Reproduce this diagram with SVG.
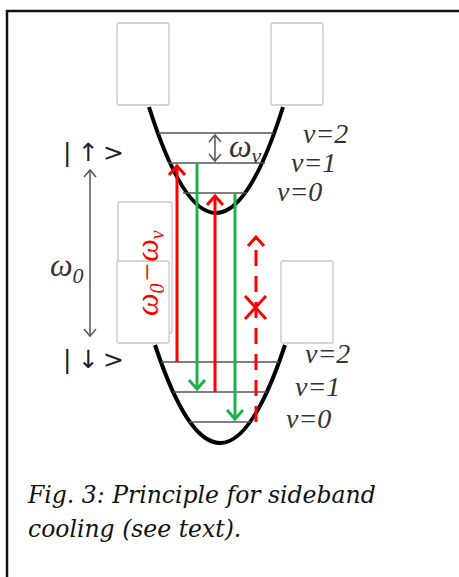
<svg xmlns="http://www.w3.org/2000/svg" width="459" height="577" viewBox="0 0 459 577">
<style>
.box{fill:#fff;stroke:#c8c8c8;stroke-width:1.3}
.well{fill:none;stroke:#000;stroke-width:4}
.lvl{stroke:#555;stroke-width:1.5}
.red{stroke:#f00;stroke-width:3;fill:none}
.grn{stroke:#1db04c;stroke-width:3;fill:none}
.gry{stroke:#555;stroke-width:1.5;fill:none}
.vl{font-family:"Liberation Serif",serif;font-style:italic;font-size:28px;fill:#333}
.om{font-family:"Liberation Serif",serif;font-style:italic;font-size:32px;fill:#333}
.ket{font-family:"DejaVu Sans",sans-serif;font-size:25px;fill:#222}
.cap{font-family:"DejaVu Serif",serif;font-style:italic;font-size:23.5px;fill:#111}
</style>
<defs>
<marker id="hr" markerUnits="userSpaceOnUse" markerWidth="20" markerHeight="20" refX="12" refY="10" orient="auto-start-reverse" viewBox="0 0 20 20"><path d="M3,2 L12,10 L3,18" fill="none" stroke="#f00" stroke-width="3"/></marker>
<marker id="hg" markerUnits="userSpaceOnUse" markerWidth="20" markerHeight="20" refX="12" refY="10" orient="auto-start-reverse" viewBox="0 0 20 20"><path d="M3,2 L12,10 L3,18" fill="none" stroke="#1db04c" stroke-width="3"/></marker>
<marker id="hk" markerUnits="userSpaceOnUse" markerWidth="16" markerHeight="16" refX="9" refY="8" orient="auto-start-reverse" viewBox="0 0 16 16"><path d="M2,2 L9,8 L2,14" fill="none" stroke="#555" stroke-width="1.5"/></marker>
</defs>
<path d="M7,577 V11 H459" fill="none" stroke="#111" stroke-width="2.5"/>
<g id="boxes">
<rect class="box" x="117" y="23" width="52" height="82" rx="2"/>
<rect class="box" x="271" y="23" width="52" height="82" rx="2"/>
<rect class="box" x="118" y="202" width="54" height="131" rx="2"/>
<rect class="box" x="117" y="261" width="52" height="82" rx="2"/>
<rect class="box" x="281" y="261" width="52" height="82" rx="2"/>
</g>
<g id="upper-well">
<path class="well" d="M149,107 Q216,319 283,107"/>
<line class="lvl" x1="158" y1="133" x2="274" y2="133"/>
<line class="lvl" x1="168" y1="163" x2="265" y2="163"/>
<line class="lvl" x1="183" y1="193" x2="247" y2="193"/>
<text class="vl" x="303" y="143">v=2</text>
<text class="vl" x="291" y="172">v=1</text>
<text class="vl" x="277" y="201">v=0</text>
</g>
<g id="lower-well">
<path class="well" d="M155,345 Q220,541 285,345"/>
<line class="lvl" x1="161" y1="362" x2="279" y2="362"/>
<line class="lvl" x1="173" y1="392" x2="267" y2="392"/>
<line class="lvl" x1="189" y1="422" x2="251" y2="422"/>
<text class="vl" x="305" y="363">v=2</text>
<text class="vl" x="295" y="396">v=1</text>
<text class="vl" x="286" y="428">v=0</text>
</g>
<g id="states">
<text class="ket" y="161"><tspan x="63">|</tspan><tspan x="78">↑</tspan><tspan x="103">&gt;</tspan></text>
<text class="ket" y="368"><tspan x="63">|</tspan><tspan x="78">↓</tspan><tspan x="103">&gt;</tspan></text>
<text class="om" x="50" y="276">ω<tspan font-size="22" dy="7">0</tspan></text>
<text class="om" x="229" y="157">ω<tspan font-size="22" dy="6">v</tspan></text>
<text class="om" style="fill:#f00" transform="translate(158,316) rotate(-90)">ω<tspan font-size="20" dy="6">0</tspan><tspan dy="-6">−ω</tspan><tspan font-size="20" dy="6">v</tspan></text>
</g>
<g id="connectors">
<line class="gry" x1="90" y1="170" x2="90" y2="336" marker-start="url(#hk)" marker-end="url(#hk)"/>
<line class="gry" x1="215" y1="135" x2="215" y2="161" marker-start="url(#hk)" marker-end="url(#hk)"/>
<line class="red" x1="177" y1="362" x2="177" y2="166" marker-end="url(#hr)"/>
<line class="grn" x1="197" y1="163" x2="197" y2="389" marker-end="url(#hg)"/>
<line class="red" x1="215" y1="392" x2="215" y2="196" marker-end="url(#hr)"/>
<line class="grn" x1="235" y1="193" x2="235" y2="419" marker-end="url(#hg)"/>
<line class="red" x1="256" y1="422" x2="256" y2="237" stroke-dasharray="16,10" marker-end="url(#hr)"/>
<path class="red" d="M245,296 L266,319 M266,296 L245,319"/>
</g>
<g id="caption">
<text class="cap" x="28" y="503">Fig. 3: Principle for sideband</text>
<text class="cap" x="28" y="537">cooling (see text).</text>
</g>
</svg>
